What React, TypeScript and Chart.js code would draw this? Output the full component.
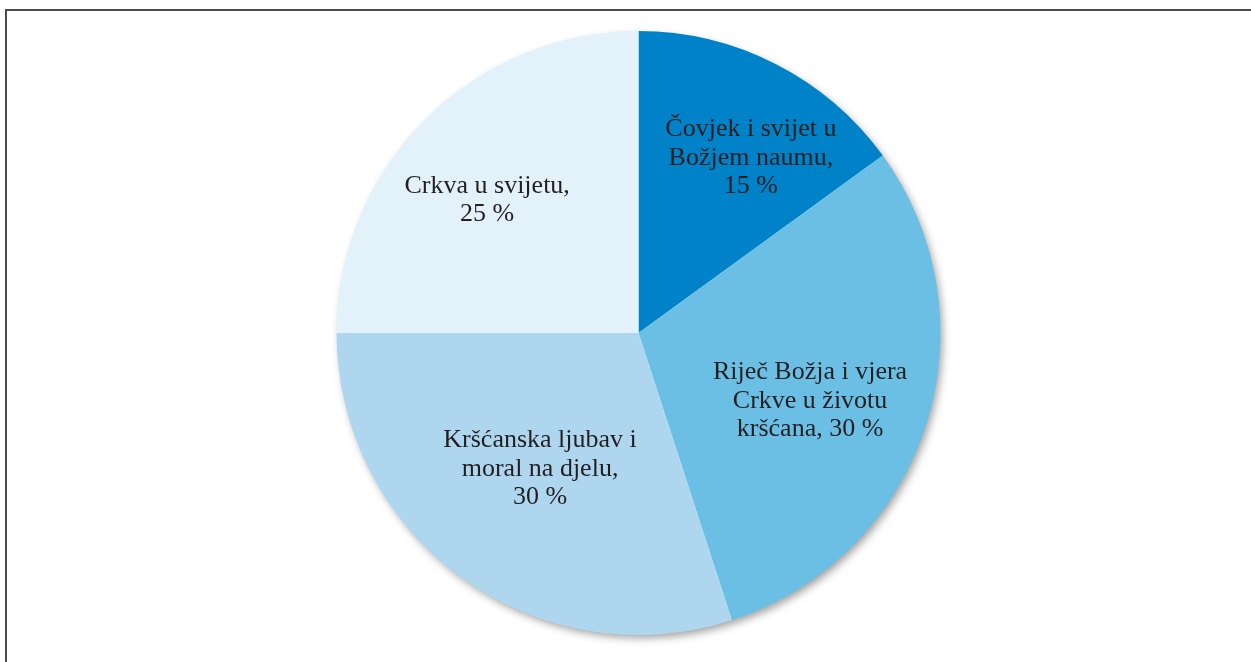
import React, { useEffect, useRef } from "react";
import { Chart, registerables } from "chart.js";

Chart.register(...registerables);

const categories = [
  "Čovjek i svijet u Božjem naumu",
  "Riječ Božja i vjera Crkve u životu kršćana",
  "Kršćanska ljubav i moral na djelu",
  "Crkva u svijetu",
];
const values = [15, 30, 30, 25];
const labelLines = [
  ["Čovjek i svijet u", "Božjem naumu,", "{v} %"],
  ["Riječ Božja i vjera", "Crkve u životu", "kršćana, {v} %"],
  ["Kršćanska ljubav i", "moral na djelu,", "{v} %"],
  ["Crkva u svijetu,", "{v} %"],
];
const colors = ["#0082c9", "#6bbfe5", "#aed7ef", "#e3f1fa"];
// label placement (fraction of radius, angle offset in degrees)
const labelRadiusFrac = [0.689, 0.611, 0.556, 0.667];
const labelAngleOffset = [5.7, 3.6, -0.1, -3.7];

const W = 1251;
const H = 662;

const shadowPlugin = {
  id: "pieShadow",
  beforeDatasetsDraw(chart: any) {
    const meta = chart.getDatasetMeta(0);
    const arc = meta.data[0];
    if (!arc) return;
    const { x, y, outerRadius } = arc.getProps(["x", "y", "outerRadius"], true);
    const ctx = chart.ctx;
    ctx.save();
    ctx.shadowColor = "rgba(0,0,0,0.38)";
    ctx.shadowBlur = 9;
    ctx.shadowOffsetX = 3;
    ctx.shadowOffsetY = 4;
    ctx.beginPath();
    ctx.arc(x, y, outerRadius - 1, 0, Math.PI * 2);
    ctx.fillStyle = "#ffffff";
    ctx.fill();
    ctx.restore();
  },
};

const labelPlugin = {
  id: "sliceLabels",
  afterDatasetsDraw(chart: any) {
    const meta = chart.getDatasetMeta(0);
    const ctx = chart.ctx;
    ctx.save();
    ctx.font = '26px "Liberation Serif", "Times New Roman", serif';
    ctx.fillStyle = "#231f20";
    ctx.textAlign = "center";
    ctx.textBaseline = "middle";
    const lineH = 28.5;
    meta.data.forEach((arc: any, i: number) => {
      const { x, y, startAngle, endAngle, outerRadius } = arc.getProps(
        ["x", "y", "startAngle", "endAngle", "outerRadius"],
        true
      );
      const mid = (startAngle + endAngle) / 2 + (labelAngleOffset[i] * Math.PI) / 180;
      const r = outerRadius * labelRadiusFrac[i];
      const cx = x + Math.cos(mid) * r;
      const cy = y + Math.sin(mid) * r;
      const lines = labelLines[i].map((l) => l.replace("{v}", String(values[i])));
      const n = lines.length;
      lines.forEach((line, k) => {
        ctx.fillText(line, cx, cy + (k - (n - 1) / 2) * lineH);
      });
    });
    ctx.restore();
  },
};

export default function App() {
  const ref = useRef<HTMLCanvasElement | null>(null);
  useEffect(() => {
    if (!ref.current) return;
    const chart = new Chart(ref.current, {
      type: "pie",
      data: {
        labels: categories,
        datasets: [
          {
            data: values,
            backgroundColor: colors,
            borderWidth: 0,
            hoverOffset: 0,
            offset: 0,
          },
        ],
      },
      options: {
        animation: false,
        responsive: false,
        radius: 302,
        layout: { padding: { left: 26, right: 0, top: 31, bottom: 27 } },
        plugins: {
          legend: { display: false },
          tooltip: { enabled: false },
        },
        events: [],
      } as any,
      plugins: [shadowPlugin, labelPlugin],
    });
    return () => chart.destroy();
  }, []);

  return (
    <div
      style={{
        position: "fixed",
        left: 0,
        top: 0,
        width: W,
        height: H,
        overflow: "hidden",
        background: "#ffffff",
      }}
    >
      <div
        style={{
          position: "absolute",
          left: 5,
          top: 9,
          width: W + 50,
          height: H + 50,
          borderTop: "2px solid #4a4a4a",
          borderLeft: "2px solid #4a4a4a",
          boxSizing: "border-box",
        }}
      />
      <canvas
        ref={ref}
        width={W}
        height={H}
        style={{ position: "absolute", left: 0, top: 0, width: W, height: H }}
      />
    </div>
  );
}
